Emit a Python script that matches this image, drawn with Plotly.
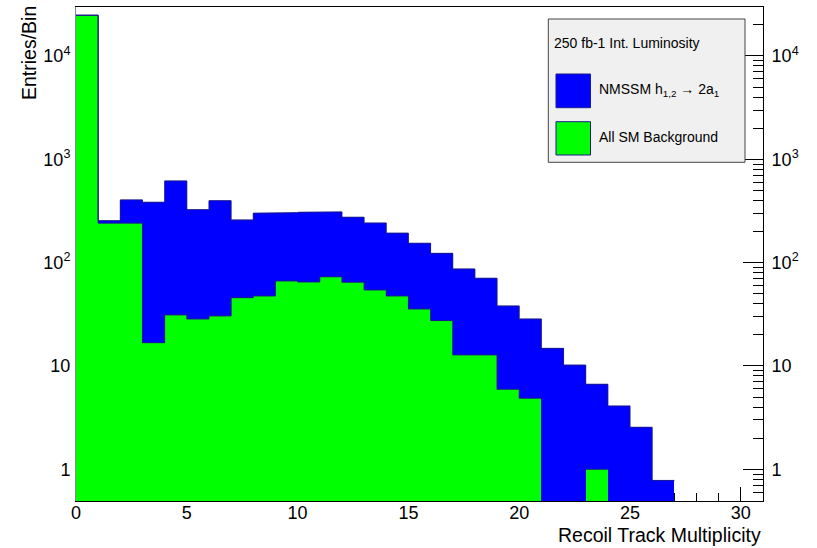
import plotly.graph_objects as go

# ---- data (bins of width 1 from 0 to 31) ----
bin_edges = list(range(32))
bin_centers = [e + 0.5 for e in range(31)]
# blue: signal + background (stack total)
total_vals = [24800, 255, 405, 384, 618, 326, 398, 259, 301, 305, 307, 310, 275,
              242, 193, 154, 123, 86.9, 70.6, 38.1, 28.5, 14.8, 10.2, 6.65, 4.1,
              2.55, 0.78, 0, 0, 0, 0]
# green: all SM background
bkg_vals = [24800, 241, 241, 16.8, 31.2, 28.5, 30.5, 45.8, 47.6, 66.5, 65, 73, 64.6,
            54.4, 47.6, 35.6, 27.5, 12.8, 12.8, 5.95, 4.87, 0, 0, 1.0, 0,
            0, 0, 0, 0, 0, 0]
signal_name = "NMSSM h<sub>1,2</sub> \u2192 2a<sub>1</sub>"
bkg_name = "All SM Background"
lumi_text = "250 fb-1 Int. Luminosity"
x_title = "Recoil Track Multiplicity"
y_title = "Entries/Bin"
x_tickvals = [0, 5, 10, 15, 20, 25, 30]
x_ticktext = ["0", "5", "10", "15", "20", "25", "30"]
y_tickvals = [1, 10, 100, 1000, 10000]
y_ticktext = ["1", "10", "10<sup>2</sup>", "10<sup>3</sup>", "10<sup>4</sup>"]
y_minor = [m * 10 ** d for d in range(-1, 5) for m in range(2, 10)]

BLUE = "#0000ff"
GREEN = "#00ff00"
EDGE = "#1a1a8c"
FONT = "Liberation Sans, Arial, sans-serif"

# figure geometry (pixels)
W, H = 817, 548
L, R, T, B = 76, 54, 7, 47
PW, PH = W - L - R, H - T - B


def px(p):
    return (p - L) / PW


def py(p):
    return (H - B - p) / PH


def step_outline(vals):
    xs, ys = [], []
    for i, v in enumerate(vals):
        if v > 0:
            xs += [bin_edges[i], bin_edges[i + 1]]
            ys += [v, v]
        else:
            xs += [None]
            ys += [None]
    return xs, ys


fig = go.Figure()
fig.add_trace(go.Bar(x=bin_centers, y=total_vals, width=1, name=signal_name,
                     marker=dict(color=BLUE, line=dict(width=0)), showlegend=False))
fig.add_trace(go.Bar(x=bin_centers, y=bkg_vals, width=1, name=bkg_name,
                     marker=dict(color=GREEN, line=dict(width=0)), showlegend=False))
for vals in (total_vals, bkg_vals):
    sx, sy = step_outline(vals)
    fig.add_trace(go.Scatter(x=sx, y=sy, mode="lines", line=dict(color=EDGE, width=1),
                             hoverinfo="skip", showlegend=False, connectgaps=False))
# invisible trace so that the right-hand (mirrored) axis is drawn
fig.add_trace(go.Scatter(x=bin_centers, y=total_vals, yaxis="y2", mode="markers",
                         marker=dict(opacity=0, size=1), hoverinfo="skip",
                         showlegend=False))

yr = [-0.307, 4.474]
fig.update_layout(
    width=W, height=H, margin=dict(l=L, r=R, t=T, b=B),
    paper_bgcolor="white", plot_bgcolor="white",
    barmode="overlay", bargap=0,
    font=dict(family=FONT, size=18, color="black"),
    xaxis=dict(range=[0, 31], showgrid=False, zeroline=False,
               showline=True, linecolor="black", linewidth=1, mirror=True,
               tickmode="array", tickvals=x_tickvals, ticktext=x_ticktext,
               ticks="inside", ticklen=14, tickcolor="black", tickwidth=1,
               ticklabelstandoff=-5, layer="below traces",
               minor=dict(tickmode="linear", tick0=0, dtick=1, ticks="inside",
                          ticklen=8, tickcolor="black")),
    yaxis=dict(type="log", range=yr, showgrid=False, zeroline=False,
               showline=True, linecolor="#888888", linewidth=1,
               tickmode="array", tickvals=y_tickvals, ticktext=y_ticktext,
               ticks="", ticklabelstandoff=1, layer="below traces"),
    yaxis2=dict(type="log", range=yr, overlaying="y", side="right", anchor="x",
                showgrid=False, zeroline=False,
                showline=True, linecolor="black", linewidth=1,
                tickmode="array", tickvals=y_tickvals, ticktext=y_ticktext,
                ticks="inside", ticklen=20, tickcolor="black", ticklabelstandoff=4,
                minor=dict(tickmode="array", tickvals=y_minor, ticks="inside",
                           ticklen=10, tickcolor="black")),
)

# axis titles (ROOT style: right / top aligned)
fig.add_annotation(text=x_title, xref="paper", yref="paper", x=px(763), y=py(535),
                   xanchor="right", yanchor="middle", showarrow=False,
                   font=dict(family=FONT, size=19.5))
fig.add_annotation(text=y_title, xref="paper", yref="paper", x=px(29), y=py(4),
                   xanchor="center", yanchor="top", textangle=-90, showarrow=False,
                   font=dict(family=FONT, size=19.5))

# legend box drawn by hand (ROOT TLegend look)
fig.add_shape(type="rect", xref="paper", yref="paper",
              x0=px(548.3), x1=px(745), y0=py(162.3), y1=py(19),
              fillcolor="#f0f0f0", line=dict(color="#444444", width=1), layer="above")
fig.add_shape(type="rect", xref="paper", yref="paper",
              x0=px(556), x1=px(590.5), y0=py(107.7), y1=py(74),
              fillcolor=BLUE, line=dict(color=EDGE, width=1), layer="above")
fig.add_shape(type="rect", xref="paper", yref="paper",
              x0=px(556), x1=px(590.5), y0=py(155), y1=py(121.7),
              fillcolor=GREEN, line=dict(color=EDGE, width=1), layer="above")
fig.add_annotation(text=lumi_text, xref="paper", yref="paper", x=px(552), y=py(43.5),
                   xanchor="left", yanchor="middle", showarrow=False,
                   font=dict(family=FONT, size=14))
fig.add_annotation(text=signal_name, xref="paper", yref="paper", x=px(597), y=py(90),
                   xanchor="left", yanchor="middle", showarrow=False,
                   font=dict(family=FONT, size=14))
fig.add_annotation(text=bkg_name, xref="paper", yref="paper", x=px(597), y=py(137),
                   xanchor="left", yanchor="middle", showarrow=False,
                   font=dict(family=FONT, size=14))

fig.write_html("out.html")
